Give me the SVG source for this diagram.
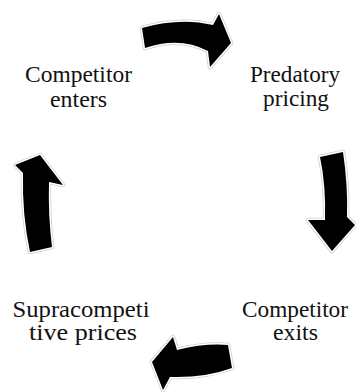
<svg xmlns="http://www.w3.org/2000/svg" width="356" height="392" viewBox="0 0 356 392">
<style>
.lbl{font-family:"Liberation Serif","Times New Roman",serif;font-size:23px;fill:#111;text-anchor:middle}
.arr-o{fill:none;stroke:#ccc;stroke-width:4.5;stroke-linejoin:round}
.arr-w{fill:none;stroke:#fff;stroke-width:3;stroke-linejoin:round}
.arr{fill:#000}
</style>
<defs>
<path id="a1" d="M142,28 Q180,17 213,25 L219,14 L231,43 L210,67 L208,51 Q180,36 145,48 Z"/>
<path id="a2" d="M320,157 L343,152 Q348,185 347,217 L355,225 L332,251 L308,220 L325,220 Q326,185 320,157 Z"/>
<path id="a3" d="M228,345 Q205,343 177,350 L173,337 L152,362 L163,390 L170,377 Q205,378 232,368 Z"/>
<path id="a4" d="M30,252 Q22,215 23,173 L15,165 L40,155 L63,185 L49,182 Q48,215 52,247 Z"/>
</defs>
<rect width="356" height="392" fill="#fff"/>
<g id="connectors">
<use href="#a1" class="arr-o"/><use href="#a1" class="arr-w"/><use href="#a1" class="arr"/>
<use href="#a2" class="arr-o"/><use href="#a2" class="arr-w"/><use href="#a2" class="arr"/>
<use href="#a3" class="arr-o"/><use href="#a3" class="arr-w"/><use href="#a3" class="arr"/>
<use href="#a4" class="arr-o"/><use href="#a4" class="arr-w"/><use href="#a4" class="arr"/>
</g>
<g id="competitor-enters">
<text class="lbl" x="78.5" y="82" textLength="107" lengthAdjust="spacingAndGlyphs">Competitor</text>
<text class="lbl" x="78.5" y="106.5" textLength="57" lengthAdjust="spacingAndGlyphs">enters</text>
</g>
<g id="predatory-pricing">
<text class="lbl" x="295" y="82" textLength="90" lengthAdjust="spacingAndGlyphs">Predatory</text>
<text class="lbl" x="296" y="106" textLength="66" lengthAdjust="spacingAndGlyphs">pricing</text>
</g>
<g id="competitor-exits">
<text class="lbl" x="295" y="317" textLength="106" lengthAdjust="spacingAndGlyphs">Competitor</text>
<text class="lbl" x="295.5" y="340" textLength="45" lengthAdjust="spacingAndGlyphs">exits</text>
</g>
<g id="supracompetitive-prices">
<text class="lbl" x="81" y="317" textLength="137" lengthAdjust="spacingAndGlyphs">Supracompeti</text>
<text class="lbl" x="83" y="340" textLength="108" lengthAdjust="spacingAndGlyphs">tive prices</text>
</g>
</svg>
